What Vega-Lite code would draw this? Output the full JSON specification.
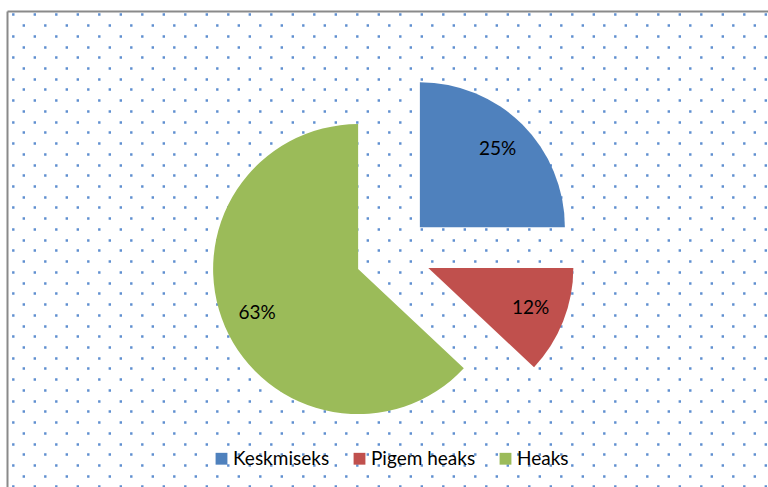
{
  "$schema": "https://vega.github.io/schema/vega-lite/v6.json",
  "width": 761,
  "height": 476,
  "autosize": {"type": "none"},
  "padding": {"left": 7, "top": 11, "right": 0, "bottom": 0},
  "background": "white",
  "config": {"view": {"stroke": null}, "font": "Lato"},
  "data": {
    "values": [
      {"cat": "Keskmiseks", "pct": 25},
      {"cat": "Pigem heaks", "pct": 12},
      {"cat": "Heaks", "pct": 63}
    ]
  },
  "transform": [
    {"window": [{"op": "sum", "field": "pct", "as": "cum"}]},
    {"joinaggregate": [{"op": "sum", "field": "pct", "as": "total"}]},
    {"calculate": "2*PI*(datum.cum - datum.pct/2)/datum.total", "as": "mid"},
    {"calculate": "datum.pct + '%'", "as": "label"}
  ],
  "layer": [
    {
      "mark": {"type": "point", "opacity": 0},
      "encoding": {
        "x": {
          "datum": 0,
          "type": "quantitative",
          "scale": {"domain": [0, 1], "nice": false},
          "axis": {"orient": "top", "title": null, "labels": false, "ticks": false, "grid": false, "domain": true, "domainColor": "#8A8A8A", "domainWidth": 2}
        },
        "y": {
          "datum": 0,
          "type": "quantitative",
          "scale": {"domain": [-0.31, 44.05], "nice": false, "zero": false, "reverse": true},
          "axis": {
            "orient": "left", "title": null, "labels": false, "ticks": false,
            "domain": true, "domainColor": "#8A8A8A", "domainWidth": 2,
            "grid": true, "gridColor": "#5F8FD0", "gridWidth": 2.4,
            "gridDash": [2.4, 19.1],
            "gridDashOffset": {"condition": {"test": "datum.value % 2 === 1", "value": 6.4}, "value": 16.9},
            "tickCount": 45
          }
        }
      }
    },
    {
      "mark": {
        "type": "arc",
        "outerRadius": 145,
        "xOffset": {"expr": "5.5 + 38*sin(datum.mid)"},
        "yOffset": {"expr": "5 - 38*cos(datum.mid)"}
      },
      "encoding": {
        "theta": {"field": "pct", "type": "quantitative", "stack": true},
        "order": {"field": "cum", "type": "quantitative"},
        "color": {
          "field": "cat",
          "type": "nominal",
          "scale": {"domain": ["Keskmiseks", "Pigem heaks", "Heaks"], "range": ["#4F81BD", "#C0504D", "#9BBB59"]},
          "legend": {
            "orient": "none", "legendX": 205, "legendY": 438, "direction": "horizontal",
            "title": null, "symbolType": "square", "symbolSize": 140, "symbolStrokeWidth": 0,
            "labelFont": "Lato", "labelFontSize": 19, "labelColor": "black",
            "labelOffset": 2, "columnPadding": 20
          }
        }
      }
    },
    {
      "mark": {
        "type": "text",
        "radius": 110,
        "fontSize": 19,
        "font": "Lato",
        "color": "black",
        "xOffset": {"expr": "5.5 + 38*sin(datum.mid)"},
        "yOffset": {"expr": "5 - 38*cos(datum.mid)"}
      },
      "encoding": {
        "theta": {"field": "pct", "type": "quantitative", "stack": true},
        "order": {"field": "cum", "type": "quantitative"},
        "detail": {"field": "cat", "type": "nominal"},
        "text": {"field": "label", "type": "nominal"}
      }
    }
  ]
}
